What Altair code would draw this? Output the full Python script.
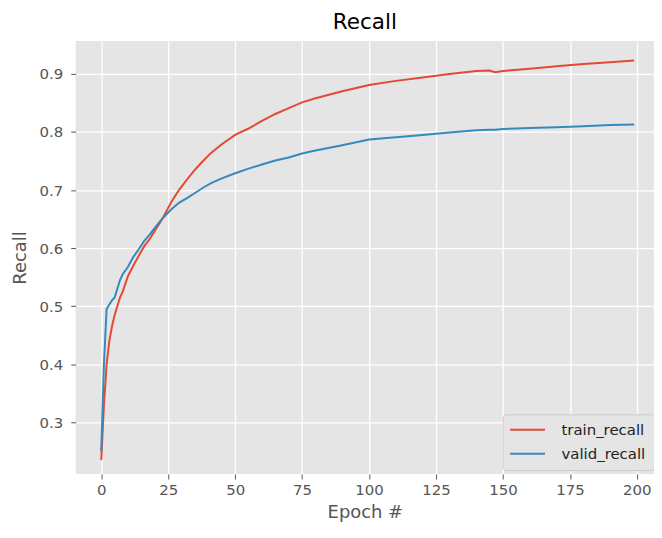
import altair as alt
import pandas as pd

epochs = [0, 1, 2, 3, 4, 5, 6, 7, 8, 10, 12, 14, 16, 18, 20, 23, 26, 29, 32, 35,
          38, 41, 45, 50, 55, 60, 65, 70, 75, 80, 90, 100, 110, 120, 130, 140,
          145, 147, 150, 160, 170, 180, 190, 199]

train_recall = [0.235, 0.33, 0.40, 0.44, 0.465, 0.485, 0.50, 0.515, 0.525, 0.552,
                0.570, 0.587, 0.603, 0.615, 0.630, 0.652, 0.678, 0.700, 0.718, 0.735,
                0.750, 0.764, 0.779, 0.795, 0.806, 0.819, 0.831, 0.841, 0.851, 0.858,
                0.870, 0.881, 0.888, 0.894, 0.900, 0.905, 0.906, 0.903, 0.905, 0.909,
                0.913, 0.917, 0.920, 0.923]

valid_recall = [0.25, 0.40, 0.495, 0.503, 0.510, 0.515, 0.530, 0.545, 0.555, 0.568,
                0.585, 0.598, 0.612, 0.623, 0.635, 0.652, 0.666, 0.678, 0.686, 0.695,
                0.704, 0.712, 0.720, 0.729, 0.737, 0.744, 0.751, 0.756, 0.763, 0.768,
                0.777, 0.787, 0.791, 0.795, 0.799, 0.803, 0.804, 0.804, 0.805, 0.807,
                0.808, 0.810, 0.812, 0.813]

series_names = ["train_recall", "valid_recall"]
series_colors = ["#E24A33", "#348ABD"]
x_ticks = [0, 25, 50, 75, 100, 125, 150, 175, 200]
y_ticks = [0.3, 0.4, 0.5, 0.6, 0.7, 0.8, 0.9]

rows = []
for e, t, v in zip(epochs, train_recall, valid_recall):
    rows.append({"epoch": e, "recall": t, "series": series_names[0]})
    rows.append({"epoch": e, "recall": v, "series": series_names[1]})
df = pd.DataFrame(rows)

chart = (
    alt.Chart(df)
    .mark_line(strokeWidth=2)
    .encode(
        x=alt.X("epoch:Q",
                scale=alt.Scale(domain=[-9.55, 206.4], nice=False, zero=False),
                axis=alt.Axis(values=x_ticks, title="Epoch #", format="d")),
        y=alt.Y("recall:Q",
                scale=alt.Scale(domain=[0.211, 0.9566], nice=False, zero=False),
                axis=alt.Axis(values=y_ticks, title="Recall", format=".1f")),
        color=alt.Color("series:N",
                        scale=alt.Scale(domain=series_names, range=series_colors),
                        legend=alt.Legend(
                            title=None, orient="none", legendX=429, legendY=375,
                            symbolType="M-3.5,0H3.5", symbolSize=100, symbolStrokeWidth=2,
                            symbolOffset=9.5,
                            labelFontSize=15, labelColor="#222222", labelOffset=26.5,
                            fillColor="#E5E5E5", strokeColor="#CCCCCC", cornerRadius=3,
                            padding=8, rowPadding=8, labelFont="DejaVu Sans")),
        detail="series:N",
    )
    .properties(
        width=581, height=435,
        title=alt.TitleParams("Recall", fontSize=21.6, fontWeight="normal", color="#000000",
                              font="DejaVu Sans", anchor="middle", offset=8),
        padding={"left": 68, "top": 32, "right": 0, "bottom": 50},
        autosize=alt.AutoSizeParams(type="none"),
        background="white",
    )
    .configure_view(fill="#E5E5E5", stroke=None)
    .configure_axis(
        domain=False, grid=True, gridColor="white", gridWidth=1.3,
        tickColor="#555555", tickSize=5, tickWidth=1,
        labelColor="#555555", labelFontSize=15, labelFont="DejaVu Sans",
        titleColor="#555555", titleFontSize=18, titleFontWeight="normal", titleFont="DejaVu Sans",
    )
    .configure_axisX(labelPadding=4, titlePadding=6)
    .configure_axisY(labelPadding=8, titlePadding=10)
)

chart.save("out.html", embed_options={"renderer": "svg", "actions": False})
